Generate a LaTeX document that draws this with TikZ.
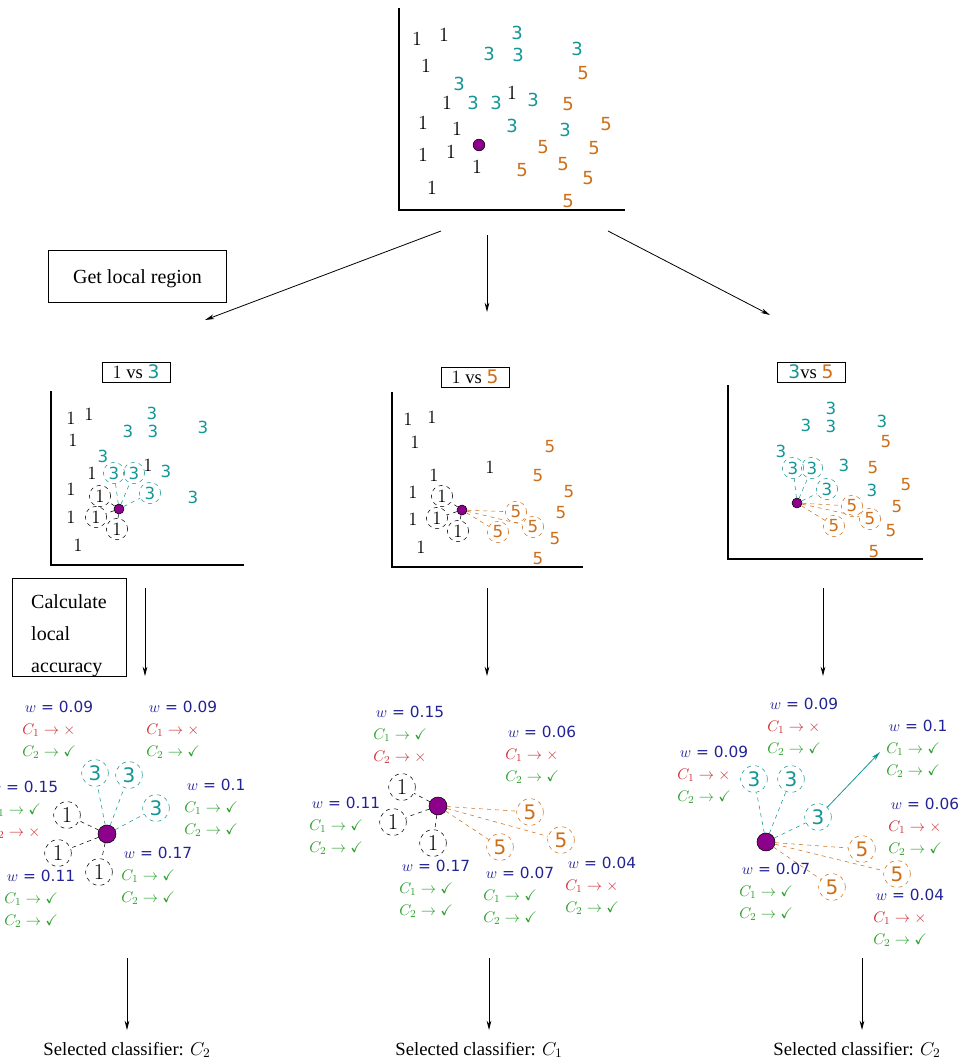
\RequirePackage{fix-cm}
\documentclass[tikz,border=0pt]{standalone}
\usepackage{amssymb}
\usepackage{fontspec}
\setmainfont{Liberation Serif}
\setsansfont{DejaVu Sans}
\usepackage{tikz}
\usetikzlibrary{shapes}
\usetikzlibrary{arrows.meta}
\usetikzlibrary{positioning}
\definecolor{tealC}{RGB}{20,150,150}
\definecolor{fiveOrange}{RGB}{205,110,25}
\definecolor{wBlue}{RGB}{35,35,150}
\definecolor{badRed}{RGB}{205,50,55}
\definecolor{okGreen}{RGB}{45,160,45}
\definecolor{queryPurple}{RGB}{140,0,140}
\newcommand{\wval}[1]{\textcolor{wBlue}{\hspace{2pt}$w$ = #1}}
\newcommand{\clsok}[1]{\textcolor{okGreen}{$C_{#1}\rightarrow\checkmark$}}
\newcommand{\clsbad}[1]{\textcolor{badRed}{$C_{#1}\rightarrow\times$}}
\tikzstyle{one} = [inner sep=0pt, font=\fontsize{15}{15}\selectfont]
\tikzstyle{three} = [inner sep=0pt, text=tealC, font=\sffamily\fontsize{13.5}{13.5}\selectfont]
\tikzstyle{five} = [three, text=fiveOrange]
\tikzstyle{oneS} = [inner sep=0pt, font=\fontsize{14}{14}\selectfont]
\tikzstyle{threeS} = [inner sep=0pt, text=tealC, font=\sffamily\fontsize{12.5}{12.5}\selectfont]
\tikzstyle{fiveS} = [threeS, text=fiveOrange]
\tikzstyle{ring} = [circle, dashed, draw, inner sep=0pt, minimum size=16pt]
\tikzstyle{ring1} = [ring, oneS, draw=black]
\tikzstyle{ring3} = [ring, threeS, draw=tealC]
\tikzstyle{ring5} = [ring, fiveS, draw=fiveOrange]
\tikzstyle{bigring1} = [ring1, minimum size=20pt, font=\fontsize{17}{17}\selectfont]
\tikzstyle{bigring3} = [ring3, minimum size=20pt, font=\sffamily\fontsize{15}{15}\selectfont]
\tikzstyle{bigring5} = [ring5, minimum size=20pt, font=\sffamily\fontsize{15}{15}\selectfont]
\tikzstyle{query} = [circle, fill=queryPurple, draw=black, inner sep=0pt, minimum size=8.8pt]
\tikzstyle{bigquery} = [query, minimum size=13.5pt]
\tikzstyle{link1} = [dashed, black]
\tikzstyle{link3} = [dashed, tealC]
\tikzstyle{link5} = [dashed, fiveOrange]
\tikzstyle{axes} = [line width=0.9pt]
\tikzstyle{flow} = [line width=0.6pt, -{Stealth[length=7pt, width=3.5pt]}]
\tikzstyle{stepbox} = [draw, line width=0.6pt, inner sep=0pt, font=\fontsize{15}{24}\selectfont]
\tikzstyle{steptext} = [inner sep=0pt, align=left, font=\fontsize{15}{24}\selectfont]
\tikzstyle{pairbox} = [draw, line width=0.6pt, inner sep=0pt, minimum width=51pt, minimum height=15pt, font=\fontsize{14}{14}\selectfont]
\tikzstyle{wlab} = [align=left, anchor=west, inner sep=0pt, font=\sffamily\fontsize{11.5}{16.5}\selectfont]
\tikzstyle{result} = [font=\fontsize{14}{14}\selectfont]

\begin{document}
\begin{tikzpicture}[x=0.75pt, y=-0.75pt]
\useasboundingbox (0,0) rectangle (963,1061);

% whole data set
\draw [axes] (399,8) -- (399,210) -- (625,210);
\foreach \x/\y [count=\i] in {417/39, 444/35, 426/66, 447/103, 423/123, 457/129, 423/155, 451/152, 477/167, 432/188, 512/93}
    \node [one] (top1-\i) at (\x,\y) {$1$};
\foreach \x/\y [count=\i] in {517/33, 489/54, 518/55, 577/49, 459/84, 473/103, 496/103, 533/100, 512/126, 565/130}
    \node [three] (top3-\i) at (\x,\y) {3};
\foreach \x/\y [count=\i] in {583/73, 568/104, 606/124, 543/147, 594/148, 563/164, 522/170, 588/178, 568/201}
    \node [five] (top5-\i) at (\x,\y) {5};
\node [query] (topq) at (479,145) {};

\node [stepbox, minimum width=134pt, minimum height=39pt] (getregion) at (137.5,276) {};
\node [steptext] (getregiontext) at (137.5,279) {Get local region};
\coordinate (splitL) at (441,231);
\coordinate (splitM) at (487,235);
\coordinate (splitR) at (608,231);
\coordinate (regionL) at (205,320);
\coordinate (regionM) at (487,312);
\coordinate (regionR) at (770,315);
\draw [flow] (splitL) -- (regionL);
\draw [flow] (splitM) -- (regionM);
\draw [flow] (splitR) -- (regionR);

% 1 vs 3
\node [pairbox] (pair13) at (136,372) {$1$ vs \textcolor{tealC}{\sffamily 3}};
\draw [axes] (51,391) -- (51,565) -- (244,565);
\foreach \x/\y [count=\i] in {71/418, 89/414, 73/440, 92/473, 71/489, 71/517, 78/545, 148/465}
    \node [oneS] (a1-\i) at (\x,\y) {$1$};
\foreach \x/\y [count=\i] in {152/413, 128/431, 153/431, 203/427, 103/456, 166/471, 193/497}
    \node [threeS] (a3-\i) at (\x,\y) {3};
\node [query, minimum size=7.5pt] (aq) at (119,509) {};
\node [ring1] (ar1) at (100,496) {$1$};
\node [ring1] (ar2) at (96,517) {$1$};
\node [ring1] (ar3) at (117,529) {$1$};
\node [ring3] (ar4) at (114,473) {3};
\node [ring3] (ar5) at (134,473) {3};
\node [ring3] (ar6) at (150,493) {3};
\foreach \n in {ar1,ar2,ar3}
    \draw [link1] (aq) -- (\n);
\foreach \n in {ar4,ar5,ar6}
    \draw [link3] (aq) -- (\n);

% 1 vs 5
\node [pairbox] (pair15) at (475,377) {$1$ vs \textcolor{fiveOrange}{\sffamily 5}};
\draw [axes] (392,392) -- (392,567) -- (583,567);
\foreach \x/\y [count=\i] in {408/419, 432/417, 415/442, 434/475, 413/492, 413/519, 421/547, 490/467}
    \node [oneS] (b1-\i) at (\x,\y) {$1$};
\foreach \x/\y [count=\i] in {550/447, 538/476, 569/492, 561/513, 555/539, 538/559}
    \node [fiveS] (b5-\i) at (\x,\y) {5};
\node [query, minimum size=7.5pt] (bq) at (462,510) {};
\node [ring1] (br1) at (442,496) {$1$};
\node [ring1] (br2) at (437,518) {$1$};
\node [ring1] (br3) at (458,531) {$1$};
\node [ring5] (br4) at (516,512) {5};
\node [ring5] (br5) at (533,527) {5};
\node [ring5] (br6) at (498,532) {5};
\foreach \n in {br1,br2,br3}
    \draw [link1] (bq) -- (\n);
\foreach \n in {br4,br5,br6}
    \draw [link5] (bq) -- (\n);

% 3 vs 5
\node [pairbox] (pair35) at (811,372) {\textcolor{tealC}{\sffamily 3}vs \textcolor{fiveOrange}{\sffamily 5}};
\draw [axes] (728,385) -- (728,559) -- (923,559);
\foreach \x/\y [count=\i] in {831/408, 806/425, 831/426, 882/421, 781/451, 844/465, 872/490}
    \node [threeS] (c3-\i) at (\x,\y) {3};
\foreach \x/\y [count=\i] in {886/442, 873/468, 906/485, 897/507, 891/531, 874/552}
    \node [fiveS] (c5-\i) at (\x,\y) {5};
\node [query, minimum size=7.5pt] (cq) at (797,503) {};
\node [ring3] (cr1) at (793,468) {3};
\node [ring3] (cr2) at (812,468) {3};
\node [ring3] (cr3) at (827,489) {3};
\node [ring5] (cr4) at (852,506) {5};
\node [ring5] (cr5) at (870,519) {5};
\node [ring5] (cr6) at (834,526) {5};
\foreach \n in {cr1,cr2,cr3}
    \draw [link3] (cq) -- (\n);
\foreach \n in {cr4,cr5,cr6}
    \draw [link5] (cq) -- (\n);

\node [stepbox, minimum width=85.5pt, minimum height=73.5pt] (calcacc) at (69,627) {};
\node [steptext] (calcacctext) at (69,636) {Calculate\\local\\accuracy};
\draw [flow] (145,588) coordinate (accL) -- (145,676) coordinate (weighL);
\draw [flow] (487,588) coordinate (accM) -- (487,676) coordinate (weighM);
\draw [flow] (823,588) coordinate (accR) -- (823,676) coordinate (weighR);

% weighted neighbours, left
\node [bigquery] (lq) at (107,834) {};
\node [bigring1] (ln1) at (67,815) {$1$};
\node [bigring1] (ln2) at (58,853) {$1$};
\node [bigring1] (ln3) at (99,872) {$1$};
\node [bigring3] (ln4) at (95,773) {3};
\node [bigring3] (ln5) at (129,775) {3};
\node [bigring3] (ln6) at (156,808) {3};
\foreach \n in {ln1,ln2,ln3}
    \draw [link1] (lq) -- (\n);
\foreach \n in {ln4,ln5,ln6}
    \draw [link3] (lq) -- (\n);
\node [wlab] (lw1) at (22,730) {\wval{0.09}\\\clsbad{1}\\\clsok{2}};
\node [wlab] (lw2) at (146,730) {\wval{0.09}\\\clsbad{1}\\\clsok{2}};
\node [wlab] (lw3) at (-13,810) {\wval{0.15}\\\clsok{1}\\\clsbad{2}};
\node [wlab] (lw4) at (184,808) {\wval{0.1}\\\clsok{1}\\\clsok{2}};
\node [wlab] (lw5) at (121,876) {\wval{0.17}\\\clsok{1}\\\clsok{2}};
\node [wlab] (lw6) at (4,899) {\wval{0.11}\\\clsok{1}\\\clsok{2}};

% weighted neighbours, middle
\node [bigquery] (mq) at (438,806) {};
\node [bigring1] (mn1) at (402,787) {$1$};
\node [bigring1] (mn2) at (393,822) {$1$};
\node [bigring1] (mn3) at (433,843) {$1$};
\node [bigring5] (mn4) at (530,812) {5};
\node [bigring5] (mn5) at (561,840) {5};
\node [bigring5] (mn6) at (500,847) {5};
\foreach \n in {mn1,mn2,mn3}
    \draw [link1] (mq) -- (\n);
\foreach \n in {mn4,mn5,mn6}
    \draw [link5] (mq) -- (\n);
\node [wlab] (mw1) at (373,735) {\wval{0.15}\\\clsok{1}\\\clsbad{2}};
\node [wlab] (mw2) at (505,755) {\wval{0.06}\\\clsbad{1}\\\clsok{2}};
\node [wlab] (mw3) at (309,826) {\wval{0.11}\\\clsok{1}\\\clsok{2}};
\node [wlab] (mw4) at (399,889) {\wval{0.17}\\\clsok{1}\\\clsok{2}};
\node [wlab] (mw5) at (483,896) {\wval{0.07}\\\clsok{1}\\\clsok{2}};
\node [wlab] (mw6) at (565,886) {\wval{0.04}\\\clsbad{1}\\\clsok{2}};

% weighted neighbours, right
\node [bigquery] (rq) at (766,842) {};
\node [bigring3] (rn1) at (754,779) {3};
\node [bigring3] (rn2) at (791,779) {3};
\node [bigring3] (rn3) at (818,817) {3};
\node [bigring5] (rn4) at (862,849) {5};
\node [bigring5] (rn5) at (897,874) {5};
\node [bigring5] (rn6) at (832,887) {5};
\foreach \n in {rn1,rn2,rn3}
    \draw [link3] (rq) -- (\n);
\foreach \n in {rn4,rn5,rn6}
    \draw [link5] (rq) -- (\n);
\coordinate (rw3tip) at (880,752);
\draw [flow, tealC] (rn3) -- (rw3tip);
\node [wlab] (rw1) at (767,727) {\wval{0.09}\\\clsbad{1}\\\clsok{2}};
\node [wlab] (rw2) at (677,775) {\wval{0.09}\\\clsbad{1}\\\clsok{2}};
\node [wlab] (rw3) at (886,749) {\wval{0.1}\\\clsok{1}\\\clsok{2}};
\node [wlab] (rw4) at (888,827) {\wval{0.06}\\\clsbad{1}\\\clsok{2}};
\node [wlab] (rw5) at (739,892) {\wval{0.07}\\\clsok{1}\\\clsok{2}};
\node [wlab] (rw6) at (873,918) {\wval{0.04}\\\clsbad{1}\\\clsok{2}};

\draw [flow] (127,958) coordinate (selL) -- (127,1030) coordinate (outL);
\draw [flow] (489,958) coordinate (selM) -- (489,1030) coordinate (outM);
\draw [flow] (862,958) coordinate (selR) -- (862,1030) coordinate (outR);
\node [result] (chosenL) at (127,1050) {Selected classifier: $C_2$};
\node [result] (chosenM) at (479,1050) {Selected classifier: $C_1$};
\node [result] (chosenR) at (857,1050) {Selected classifier: $C_2$};
\end{tikzpicture}
\end{document}
